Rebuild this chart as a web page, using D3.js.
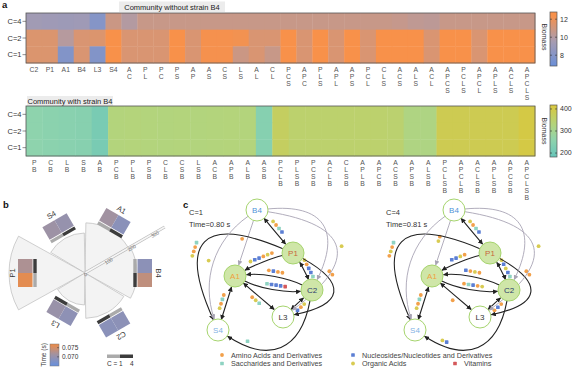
<!DOCTYPE html>
<html><head><meta charset="utf-8">
<script src="https://cdn.jsdelivr.net/npm/d3@7"></script>
<style>
body{margin:0;background:#fff}
svg{font-family:"Liberation Sans",Arial,sans-serif}
</style></head><body>
<svg id="fig" width="576" height="373"></svg>
<script>
// ---------- panel a data
const rowLabels = ["C=4", "C=2", "C=1"]
const noB4Cols = ["C2","P1","A1","B4","L3","S4","AC","PL","PC","PS","AP","AS","CS","LS","AL","CL",
  "PCS","APC","PLS","APL","APS","PCL","CLS","ACS","ALS","ACL","APCS","PCLS","APCL","APLS","ACLS","APCLS"]
const noB4C4 = [9.3,9.2,9.1,9.2,8.0,10.8,10.0,10.7,10.7,10.7,10.7,10.7,10.7,10.7,10.7,10.7,
  10.7,10.7,10.7,10.7,10.7,10.7,10.7,10.6,10.4,10.3,10.7,10.7,10.7,10.7,10.7,10.7]
const noB4C2 = [11.4,11.4,10.1,11.3,11.4,12.5,11.3,11.3,11.3,12.4,11.3,12.3,12.3,12.2,11.3,11.3,
  12.4,11.3,12.4,11.3,12.4,11.3,12.4,12.4,12.4,11.3,12.4,12.4,11.3,12.4,12.4,12.4]
const noB4C1 = [11.4,11.4,7.9,11.3,7.9,12.5,11.3,11.3,11.3,12.4,11.3,12.3,12.3,10.8,11.3,10.7,
  12.4,11.3,12.4,11.3,12.4,11.3,12.4,12.4,12.4,11.3,12.4,12.4,11.3,12.4,12.4,12.4]
const withB4Cols = ["PB","CB","LB","SB","AB","PCB","PLB","PSB","CLB","CSB","LSB","ACB","APB","ALB","ASB",
  "PCLB","PLSB","PCSB","ACLB","CLSB","APLB","APCB","ACSB","APSB","ALSB","PCLSB","APCLB","ACLSB","APLSB","APCSB","APCLSB"]
const withB4Biomass = [258,252,248,244,218,330,332,330,328,330,328,330,332,330,242,
  368,350,350,350,350,350,350,348,322,320,388,388,388,388,388,405]
const noB4Ticks = [8, 10, 12]
const withB4Ticks = [200, 300, 400]

// ---------- panel b data
const strains = ["B4", "A1", "S4", "P1", "L3", "C2"]
const strainBiomass = [195, 188, 150, 285, 120, 170]
const timeC1 = [0.069, 0.0712, 0.0708, 0.0762, 0.0692, 0.0690]
const timeC4 = [0.0735, 0.0688, 0.0700, 0.0722, 0.0704, 0.0688]
const radialTicks = [0, 100, 200, 300]
const timeTicks = [0.070, 0.075]

// ---------- panel c data
const netNodes = ["B4", "P1", "A1", "C2", "L3", "S4"]
const netX = [74, 110, 52, 129, 100, 35]
const netY = [10, 53, 76, 90, 117, 130]
// from, to, bend, kind (k black / g grey), double-headed, marker position, side
const netEdges = [
  ["B4","P1", 0,    "k", 1, 0.45, -1],
  ["B4","A1", 0,    "g", 0, 0.45,  1],
  ["P1","A1", 0.05, "k", 0, 0.5,   1],
  ["C2","A1", 0.1,  "k", 0, 0.5,   1],
  ["A1","C2", 0.1,  "k", 0, 0.55, -1],
  ["A1","L3", 0,    "k", 1, 0.5,   1],
  ["S4","A1", 0,    "k", 1, 0.5,  -1],
  ["C2","P1", 0.05, "k", 1, 0.5,   1],
  ["P1","S4", 0.85, "k", 0, 0.6,   1],
  ["P1","L3",-0.9,  "k", 0, 0.25, -1],
  ["L3","C2", 0,    "k", 1, 0.5,   1],
  ["B4","C2",-0.6,  "g", 0, 0.5,   1],
  ["B4","L3",-0.8,  "g", 0, 0.5,  -1],
  ["C2","S4",-0.5,  "k", 0, 0.85,  1],
  ["B4","S4", 0.25, "g", 0, 0.5,   1]
]
const markersC1 = [["o","a","s","n"],["a"],["a","o","a","n","n","o"],["a","a","n","a"],["s","n","n","n","v"],
  ["a","o","s"],["o","a","s","a"],["s","n","n","a","o"],["s","a","a","o"],["a","a"],["n","a","o"],[],["o"],["s"],["o"]]
const markersC4 = [["o","a","s","n"],["a","o"],["a","o","n","n"],["a","o","a","n"],["a","s","n","a","o"],
  ["a"],["o","a","s","a"],["s","n","o","n","o"],["s","a","o","a"],["a","a"],["a","n","a"],[],["o"],["n","o"],[]]
const netTitles = [["C=1", "Time=0.80 s"], ["C=4", "Time=0.81 s"]]
const metCodes = ["a", "s", "n", "o", "v"]
const metNames = ["Amino Acids and Derivatives", "Saccharides and Derivatives",
  "Nucleosides/Nucleotides and Derivatives", "Organic Acids", "Vitamins"]

const svg = d3.select("#fig")
const defs = svg.append("defs")

// ---------- panel a
const noB4Color = d3.scaleLinear().domain([6.8, 9.6, 12.4])
  .range(["#6a8fd8", "#a89cb0", "#f8914a"]).clamp(true)
const withB4Color = d3.scaleLinear().domain([182, 260, 330, 418])
  .range(["#66c5b9", "#8fd3ad", "#b3d47c", "#dac73c"]).clamp(true)

function drawHeat(cols, rows, y0, y1, color) {
  const g = svg.append("g")
  const x = d3.scaleBand().domain(cols).range([26, 535])
  const y = d3.scaleBand().domain(rowLabels).range([y0, y1])
  const cells = []
  rows.forEach((vals, r) => vals.forEach((v, i) => cells.push({ row: rowLabels[r], col: cols[i], v })))
  g.selectAll("rect.cell").data(cells).enter().append("rect")
    .attr("x", d => x(d.col)).attr("y", d => y(d.row))
    .attr("width", x.bandwidth() + 0.4).attr("height", y.bandwidth() + 0.4)
    .attr("fill", d => color(d.v))
  g.append("rect").attr("x", 26).attr("y", y0).attr("width", 509).attr("height", y1 - y0)
    .attr("fill", "none").attr("stroke", "#555").attr("stroke-width", 0.8)
  rowLabels.forEach(r => {
    const yy = y(r) + y.bandwidth() / 2
    g.append("line").attr("x1", 22.5).attr("x2", 26).attr("y1", yy).attr("y2", yy)
      .attr("stroke", "#444").attr("stroke-width", 0.6)
    g.append("text").attr("x", 21.5).attr("y", yy + 2.6).attr("text-anchor", "end")
      .attr("font-size", 7.5).attr("fill", "#333").text(r)
  })
  cols.forEach(c => {
    const parts = /\d/.test(c) ? [c] : c.split("")
    parts.forEach((p, k) => {
      g.append("text").attr("x", x(c) + x.bandwidth() / 2).attr("y", y1 + 8.5 + k * 7)
        .attr("text-anchor", "middle").attr("font-size", 6.8).attr("fill", "#555").text(p)
    })
  })
}

function drawTitle(text, xc, yb, w) {
  svg.append("rect").attr("x", xc - w / 2).attr("y", yb - 8).attr("width", w).attr("height", 10.5)
    .attr("fill", "#ececec")
  svg.append("text").attr("x", xc).attr("y", yb).attr("text-anchor", "middle")
    .attr("font-size", 7.5).attr("fill", "#222").text(text)
}

function drawColorbar(id, color, dom, x, yTop, yBot, ticks, fmt) {
  const grad = defs.append("linearGradient").attr("id", id)
    .attr("x1", 0).attr("x2", 0).attr("y1", 1).attr("y2", 0)
  d3.range(0, 1.001, 0.05).forEach(t => {
    grad.append("stop").attr("offset", t).attr("stop-color", color(dom[0] + t * (dom[1] - dom[0])))
  })
  const ys = d3.scaleLinear().domain(dom).range([yBot, yTop])
  svg.append("rect").attr("x", x).attr("y", yTop).attr("width", 7).attr("height", yBot - yTop)
    .attr("fill", `url(#${id})`).attr("stroke", "#555").attr("stroke-width", 0.7)
  ticks.forEach(t => {
    svg.append("line").attr("x1", x).attr("x2", x + 2).attr("y1", ys(t)).attr("y2", ys(t))
      .attr("stroke", "#333").attr("stroke-width", 0.6)
    svg.append("line").attr("x1", x + 5).attr("x2", x + 7).attr("y1", ys(t)).attr("y2", ys(t))
      .attr("stroke", "#333").attr("stroke-width", 0.6)
    svg.append("text").attr("x", x + 10).attr("y", ys(t) + 2.4).attr("font-size", 7)
      .attr("fill", "#333").text(fmt(t))
  })
}

drawTitle("Community without strain B4", 172, 9.5, 106)
drawHeat(noB4Cols, [noB4C4, noB4C2, noB4C1], 13, 63, noB4Color)
drawColorbar("cbTop", noB4Color, [6.8, 12.8], 550, 12, 66, noB4Ticks, d3.format("d"))
drawTitle("Community with strain B4", 70, 104, 86)
drawHeat(withB4Cols, [withB4Biomass, withB4Biomass, withB4Biomass], 106, 156, withB4Color)
drawColorbar("cbBot", withB4Color, [182, 418], 550, 105, 157, withB4Ticks, d3.format("d"))
;[[542, 37], [542, 131]].forEach(([bx, by]) => {
  svg.append("text").attr("transform", `translate(${bx},${by}) rotate(90)`)
    .attr("text-anchor", "middle").attr("font-size", 7).attr("fill", "#333").text("Biomass")
})

// panel letters
;[["a", 2, 8], ["b", 3, 208], ["c", 183, 208]].forEach(([t, x, y]) => {
  svg.append("text").attr("x", x).attr("y", y).attr("font-size", 9.5)
    .attr("font-weight", "bold").attr("fill", "#111").text(t)
})

// ---------- panel b
const cx = 85, cy = 273
const rScale = d3.scaleLinear().domain([0, 300]).range([0, 80])
const timeColor = d3.scaleLinear().domain([0.0655, 0.0715, 0.0775])
  .range(["#6a90da", "#a4929e", "#f58a3c"]).clamp(true)
const deg = Math.PI / 180
const gb = svg.append("g")
const arc = d3.arc()
strains.forEach((s, i) => {
  const th = i * 60
  const a = (90 - th) * deg
  gb.append("path").attr("transform", `translate(${cx},${cy})`)
    .attr("d", arc({ innerRadius: 0, outerRadius: rScale(strainBiomass[i]), startAngle: a - 29 * deg, endAngle: a + 29 * deg }))
    .attr("fill", "#f3f3f3").attr("stroke", "#bbb").attr("stroke-width", 0.7)
})
// radial axis
const axA = 30 * deg
const axEnd = [cx + 92 * Math.cos(axA), cy - 92 * Math.sin(axA)]
gb.append("line").attr("x1", cx).attr("y1", cy).attr("x2", axEnd[0]).attr("y2", axEnd[1])
  .attr("stroke", "#bbb").attr("stroke-width", 3)
gb.append("line").attr("x1", cx).attr("y1", cy).attr("x2", axEnd[0]).attr("y2", axEnd[1])
  .attr("stroke", "#f6f6f6").attr("stroke-width", 1.6)
radialTicks.forEach(t => {
  const r = rScale(t)
  const px = cx + r * Math.cos(axA) + 1.5, py = cy - r * Math.sin(axA) + 3
  gb.append("text").attr("transform", `translate(${px},${py}) rotate(-30)`)
    .attr("text-anchor", "middle").attr("font-size", 5).attr("fill", "#666").text(t)
})
// strain blocks
strains.forEach((s, i) => {
  const th = i * 60
  const R = Math.min(rScale(strainBiomass[i]) + 12, 58)
  const bx = cx + R * Math.cos(th * deg), by = cy - R * Math.sin(th * deg)
  const g = gb.append("g").attr("transform", `translate(${bx},${by}) rotate(${90 - th})`)
  g.append("rect").attr("x", -14).attr("y", -9).attr("width", 14).attr("height", 14.5).attr("fill", timeColor(timeC1[i]))
  g.append("rect").attr("x", 0).attr("y", -9).attr("width", 14).attr("height", 14.5).attr("fill", timeColor(timeC4[i]))
  g.append("rect").attr("x", -14).attr("y", 6.3).attr("width", 14).attr("height", 3.4).attr("fill", "#aaa")
  g.append("rect").attr("x", 0).attr("y", 6.3).attr("width", 14).attr("height", 3.4).attr("fill", "#3c3c3c")
  g.append("text").attr("x", 0).attr("y", -12.5).attr("text-anchor", "middle")
    .attr("font-size", 7.5).attr("fill", "#333").text(s)
})
// time colorbar
drawColorbarTime()
function drawColorbarTime() {
  const grad = defs.append("linearGradient").attr("id", "cbTime")
    .attr("x1", 0).attr("x2", 0).attr("y1", 1).attr("y2", 0)
  d3.range(0, 1.001, 0.05).forEach(t => {
    grad.append("stop").attr("offset", t).attr("stop-color", timeColor(0.065 + t * 0.012))
  })
  const ys = d3.scaleLinear().domain([0.065, 0.077]).range([366, 344])
  svg.append("rect").attr("x", 50).attr("y", 344).attr("width", 9).attr("height", 22)
    .attr("fill", "url(#cbTime)").attr("stroke", "#777").attr("stroke-width", 0.5)
  timeTicks.forEach(t => {
    svg.append("line").attr("x1", 57).attr("x2", 59).attr("y1", ys(t)).attr("y2", ys(t)).attr("stroke", "#333").attr("stroke-width", 0.5)
    svg.append("text").attr("x", 62).attr("y", ys(t) + 2.3).attr("font-size", 6.5).attr("fill", "#333").text(d3.format(".3f")(t))
  })
  svg.append("text").attr("transform", "translate(46,355) rotate(-90)").attr("text-anchor", "middle")
    .attr("font-size", 6.5).attr("fill", "#333").text("Time (s)")
  svg.append("rect").attr("x", 107).attr("y", 354.5).attr("width", 13).attr("height", 3.5).attr("fill", "#aaa")
  svg.append("rect").attr("x", 120).attr("y", 354.5).attr("width", 13).attr("height", 3.5).attr("fill", "#3c3c3c")
  svg.append("text").attr("x", 107).attr("y", 366).attr("font-size", 6.5).attr("fill", "#333").text("C = 1")
  svg.append("text").attr("x", 130).attr("y", 366).attr("font-size", 6.5).attr("fill", "#333").text("4")
}

// ---------- panel c
const metColor = { a: "#f2a04a", s: "#8ed3c2", n: "#5c7fd4", o: "#d8cb52", v: "#d4585a" }
const nodeStyle = {
  B4: ["#fff", "#4f93d8"], P1: ["#cfe6a8", "#c8643c"], A1: ["#cfe6a8", "#f0a040"],
  C2: ["#cfe6a8", "#2c3c6c"], L3: ["#fff", "#333"], S4: ["#fff", "#7fb2e4"]
}
;[["hk", "#222"], ["hg", "#a8a4b4"]].forEach(([id, c]) => {
  defs.append("marker").attr("id", id).attr("viewBox", "0 0 6 6").attr("refX", 5.5).attr("refY", 3)
    .attr("markerWidth", 5).attr("markerHeight", 5).attr("markerUnits", "userSpaceOnUse")
    .attr("orient", "auto-start-reverse")
    .append("path").attr("d", "M0,0L6,3L0,6z").attr("fill", c)
})

function drawMarker(g, code, x, y) {
  if (code === "a" || code === "o") {
    g.append("circle").attr("cx", x).attr("cy", y).attr("r", 1.9).attr("fill", metColor[code])
  } else {
    g.append("rect").attr("x", x - 1.8).attr("y", y - 1.8).attr("width", 3.6).attr("height", 3.6)
      .attr("rx", 0.6).attr("fill", metColor[code])
  }
}

function drawNetwork(ox, oy, markers, titles) {
  const g = svg.append("g")
  const X = d3.scaleLinear().domain([0, 100]).range([ox, ox + 100])
  const Y = d3.scaleLinear().domain([0, 100]).range([oy, oy + 100])
  const pos = {}
  netNodes.forEach((n, i) => pos[n] = [X(netX[i]), Y(netY[i])])
  const NR = 11
  netEdges.forEach((e, ei) => {
    const [f, t, bend, kind, both, at, side] = e
    const p0 = pos[f], p3 = pos[t]
    const dx = p3[0] - p0[0], dy = p3[1] - p0[1], L = Math.hypot(dx, dy)
    const nx = -dy / L, ny = dx / L, off = bend * L
    const c1 = [p0[0] + dx / 3 + nx * off, p0[1] + dy / 3 + ny * off]
    const c2 = [p0[0] + 2 * dx / 3 + nx * off, p0[1] + 2 * dy / 3 + ny * off]
    const u1 = [c1[0] - p0[0], c1[1] - p0[1]], l1 = Math.hypot(...u1)
    const u2 = [c2[0] - p3[0], c2[1] - p3[1]], l2 = Math.hypot(...u2)
    const s = [p0[0] + u1[0] / l1 * NR, p0[1] + u1[1] / l1 * NR]
    const en = [p3[0] + u2[0] / l2 * (NR + 0.5), p3[1] + u2[1] / l2 * (NR + 0.5)]
    const path = d3.path()
    path.moveTo(s[0], s[1])
    path.bezierCurveTo(c1[0], c1[1], c2[0], c2[1], en[0], en[1])
    const p = g.append("path").attr("d", path.toString()).attr("fill", "none")
      .attr("stroke", kind === "k" ? "#222" : "#a8a4b4").attr("stroke-width", kind === "k" ? 1.1 : 0.9)
      .attr("marker-end", `url(#h${kind})`)
    if (both) p.attr("marker-start", `url(#h${kind})`)
    // metabolite markers
    const list = markers[ei]
    if (!list.length) return
    const bez = tt => {
      const a = 1 - tt
      return [a*a*a*s[0] + 3*a*a*tt*c1[0] + 3*a*tt*tt*c2[0] + tt*tt*tt*en[0],
              a*a*a*s[1] + 3*a*a*tt*c1[1] + 3*a*tt*tt*c2[1] + tt*tt*tt*en[1]]
    }
    const P = bez(at), Q = bez(at + 0.01)
    const tl = Math.hypot(Q[0] - P[0], Q[1] - P[1])
    const ux = (Q[0] - P[0]) / tl, uy = (Q[1] - P[1]) / tl
    list.forEach((m, k) => {
      const o = (k - (list.length - 1) / 2) * 4.6
      drawMarker(g, m, P[0] + ux * o - uy * side * 5, P[1] + uy * o + ux * side * 5)
    })
  })
  netNodes.forEach(n => {
    g.append("circle").attr("cx", pos[n][0]).attr("cy", pos[n][1]).attr("r", NR)
      .attr("fill", nodeStyle[n][0]).attr("stroke", "#a6d46e").attr("stroke-width", 1)
    g.append("text").attr("x", pos[n][0]).attr("y", pos[n][1] + 2.8).attr("text-anchor", "middle")
      .attr("font-size", 8).attr("fill", nodeStyle[n][1]).text(n)
  })
  titles.forEach((t, k) => {
    g.append("text").attr("x", ox + 6).attr("y", oy + 15 + k * 11.5).attr("font-size", 7.5)
      .attr("fill", "#333").text(t)
  })
}
drawNetwork(183, 200, markersC1, netTitles[0])
drawNetwork(380, 200, markersC4, netTitles[1])

// legend
const legCol = [222, 222, 353, 353, 455]
const legRow = [355, 363.5, 355, 363.5, 363.5]
metCodes.forEach((c, i) => {
  drawMarker(svg, c, legCol[i], legRow[i])
  svg.append("text").attr("x", legCol[i] + 9).attr("y", legRow[i] + 2.5).attr("font-size", 7.2)
    .attr("fill", "#444").text(metNames[i])
})
</script>
</body></html>
